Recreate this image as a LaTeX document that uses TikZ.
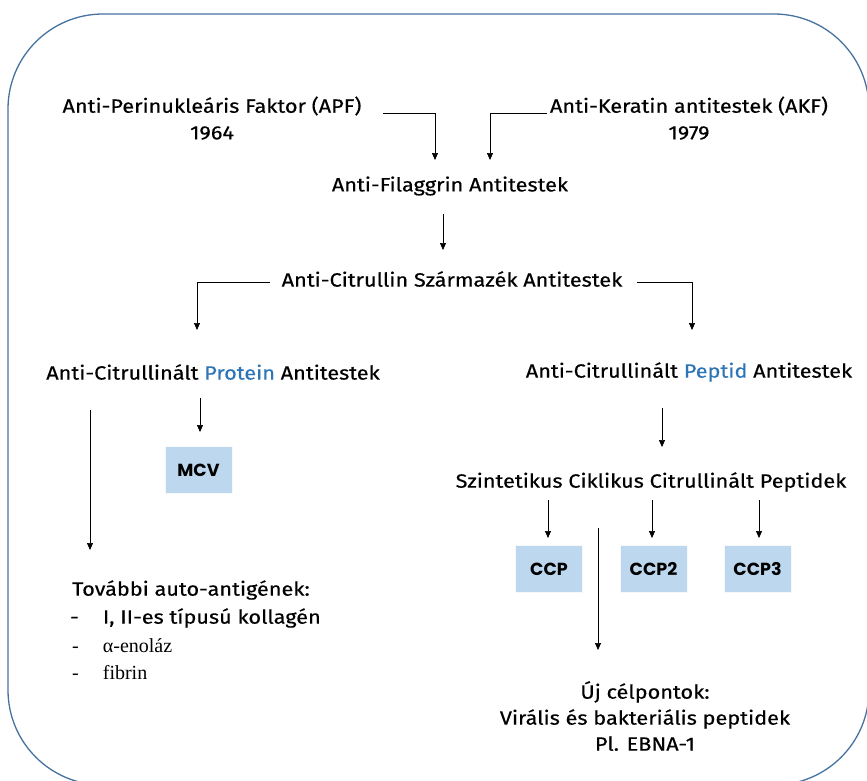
\documentclass[tikz,border=0pt]{standalone}
\usepackage{fontspec}
\setmainfont[FakeStretch=1.13,FakeBold=0.4]{Fira Sans}
\newfontfamily\serifpart{Liberation Serif}
\newfontfamily\boxfont{Poppins}
\usetikzlibrary{arrows.meta}
\definecolor{framecol}{RGB}{70,114,160}
\definecolor{boxfill}{RGB}{189,215,238}
\definecolor{blutext}{RGB}{46,117,182}
\tikzset{
  lbl/.style={font=\fontsize{19.2}{22}\selectfont, inner sep=0pt, align=center},
  serl/.style={inner sep=0pt, anchor=west, font=\serifpart\fontsize{20}{22}\selectfont},
  arr/.style={draw=black, line width=0.7pt, -{Triangle[length=7pt,width=6pt]}},
  bx/.style={fill=boxfill, draw=white!85!boxfill, line width=1pt, minimum width=67pt, minimum height=47pt, inner sep=0pt, font=\boxfont\bfseries\fontsize{17.5}{19}\selectfont},
}
\begin{document}
\begin{tikzpicture}[x=1pt,y=-1pt]
\useasboundingbox (0,0) rectangle (867,780);
\begin{scope}
\clip (0,0) rectangle (867,780);
\draw[framecol, line width=1.3pt, rounded corners=95pt] (8,14) rectangle (869,785);
\end{scope}

\node[lbl] (apf) at (212,106) {Anti-Perinukleáris Faktor (APF)};
\node[lbl] (apfy) at (212,133) {1964};
\node[lbl] (akf) at (689,106) {Anti-Keratin antitestek (AKF)};
\node[lbl] (akfy) at (689,133) {1979};
\node[lbl] (fil) at (450,186) {Anti-Filaggrin Antitestek};
\node[lbl] (cit) at (452,279) {Anti-Citrullin Származék Antitestek};
\node[lbl] (prot) at (213,372) {Anti-Citrullinált \textcolor{blutext}{Protein} Antitestek};
\node[lbl] (pep) at (689,372) {Anti-Citrullinált \textcolor{blutext}{Peptid} Antitestek};
\node[lbl] (szint) at (651,482) {Szintetikus Ciklikus Citrullinált Peptidek};

\node[bx] (mcv) at (198.5,470) {MCV};
\node[bx] (ccp) at (549,569) {CCP};
\node[bx] (ccp2) at (653.5,569) {CCP2};
\node[bx] (ccp3) at (757.5,569) {CCP3};

\node[lbl, anchor=west] (tov) at (72,590) {További auto-antigének:};
\node[lbl, anchor=west] (kol) at (70,618) {-\hspace{24pt}I, II-es típusú kollagén};
\node[serl] (eno) at (72,646) {-\hspace{24pt}α-enoláz};
\node[serl] (fib) at (72,673) {-\hspace{24pt}fibrin};

\node[lbl] (uj) at (645,716) {Új célpontok:\\[4pt] Virális és bakteriális peptidek\\[4pt] Pl. EBNA-1};

% coordinates for connector ends
\coordinate (s1) at (383,113);
\coordinate (t1) at (435,160);
\coordinate (s2) at (547,113);
\coordinate (t2) at (490,160);
\coordinate (s3) at (443,214);
\coordinate (t3) at (443,250);
\coordinate (s4) at (270,282);
\coordinate (t4) at (197,330);
\coordinate (s5) at (637,282);
\coordinate (t5) at (692,330);
\coordinate (s6) at (90,410);
\coordinate (t6) at (90,550);
\coordinate (s7) at (200,398);
\coordinate (s8) at (662,408);
\coordinate (t8) at (662,447);
\coordinate (s9) at (548,500);
\coordinate (s10) at (652,500);
\coordinate (s11) at (759,500);
\coordinate (s12) at (598,528);
\coordinate (t12) at (598,650);

\draw[arr] (s1) -| (t1);
\draw[arr] (s2) -| (t2);
\draw[arr] (s3) -- (t3);
\draw[arr] (s4) -| (t4);
\draw[arr] (s5) -| (t5);
\draw[arr] (s6) -- (t6);
\draw[arr] (s7) -- ([yshift=14pt]mcv.north -| s7);
\draw[arr] (s8) -- (t8);
\draw[arr] (s9) -- ([yshift=7pt]ccp.north -| s9);
\draw[arr] (s10) -- ([yshift=7pt]ccp2.north -| s10);
\draw[arr] (s11) -- ([yshift=7pt]ccp3.north -| s11);
\draw[arr] (s12) -- (t12);
\end{tikzpicture}
\end{document}
